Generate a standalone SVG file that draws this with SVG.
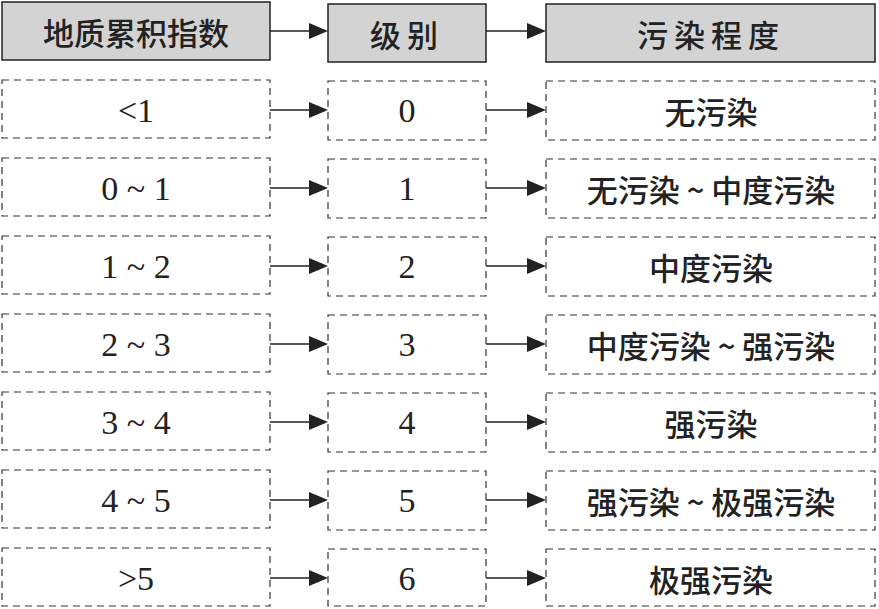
<svg xmlns="http://www.w3.org/2000/svg" width="879" height="609" viewBox="0 0 879 609">
<style>
.h{fill:#d3d3d3;stroke:#222;stroke-width:1.5}
.b{fill:#fff;stroke:#333;stroke-width:1.2;stroke-dasharray:7,5}
.c{font-family:"Noto Sans CJK SC",sans-serif;font-size:31px;font-weight:500;fill:#222;text-anchor:middle;dominant-baseline:central}
.n{font-family:"Liberation Serif",serif;font-size:34px;fill:#222;text-anchor:middle;dominant-baseline:central}
.l{stroke:#222;stroke-width:1.5;fill:none}
.t{fill:#222}
</style>
<defs><path id="ar" class="t" d="M-19,-8L0,0L-19,8z"/></defs>
<rect width="879" height="609" fill="#fff"/>
<g id="connectors">
<path class="l" d="M270,31H312M486,31H530M270,110H312M486,110H530M270,188H312M486,188H530M270,266H312M486,266H530M270,344H312M486,344H530M270,422H312M486,422H530M270,500H312M486,500H530M270,578H312M486,578H530"/>
<use href="#ar" x="328" y="31"/><use href="#ar" x="546" y="31"/>
<use href="#ar" x="328" y="110"/><use href="#ar" x="546" y="110"/>
<use href="#ar" x="328" y="188"/><use href="#ar" x="546" y="188"/>
<use href="#ar" x="328" y="266"/><use href="#ar" x="546" y="266"/>
<use href="#ar" x="328" y="344"/><use href="#ar" x="546" y="344"/>
<use href="#ar" x="328" y="422"/><use href="#ar" x="546" y="422"/>
<use href="#ar" x="328" y="500"/><use href="#ar" x="546" y="500"/>
<use href="#ar" x="328" y="578"/><use href="#ar" x="546" y="578"/>
</g>
<g id="h1"><rect class="h" x="2" y="2" width="268" height="58"/><text class="c" x="136" y="31">地质累积指数</text></g>
<g id="h2"><rect class="h" x="328" y="4" width="158" height="58"/><text class="c" x="407" y="33" letter-spacing="6">级别</text></g>
<g id="h3"><rect class="h" x="546" y="4" width="329" height="58"/><text class="c" x="711" y="33" letter-spacing="6">污染程度</text></g>
<g id="r0"><rect class="b" x="2" y="80" width="268" height="58"/><text class="n" x="136" y="110">&lt;1</text><rect class="b" x="328" y="81" width="158" height="59"/><text class="n" x="407" y="110">0</text><rect class="b" x="546" y="81" width="329" height="59"/><text class="c" x="711" y="110">无污染</text></g>
<g id="r1"><rect class="b" x="2" y="158" width="268" height="58"/><text class="n" x="136" y="188">0 ~ 1</text><rect class="b" x="328" y="159" width="158" height="59"/><text class="n" x="407" y="188">1</text><rect class="b" x="546" y="159" width="329" height="59"/><text class="c" x="711" y="188">无污染 ~ 中度污染</text></g>
<g id="r2"><rect class="b" x="2" y="236" width="268" height="58"/><text class="n" x="136" y="266">1 ~ 2</text><rect class="b" x="328" y="237" width="158" height="59"/><text class="n" x="407" y="266">2</text><rect class="b" x="546" y="237" width="329" height="59"/><text class="c" x="711" y="266">中度污染</text></g>
<g id="r3"><rect class="b" x="2" y="314" width="268" height="58"/><text class="n" x="136" y="344">2 ~ 3</text><rect class="b" x="328" y="315" width="158" height="59"/><text class="n" x="407" y="344">3</text><rect class="b" x="546" y="315" width="329" height="59"/><text class="c" x="711" y="344">中度污染 ~ 强污染</text></g>
<g id="r4"><rect class="b" x="2" y="392" width="268" height="58"/><text class="n" x="136" y="422">3 ~ 4</text><rect class="b" x="328" y="393" width="158" height="59"/><text class="n" x="407" y="422">4</text><rect class="b" x="546" y="393" width="329" height="59"/><text class="c" x="711" y="422">强污染</text></g>
<g id="r5"><rect class="b" x="2" y="470" width="268" height="58"/><text class="n" x="136" y="500">4 ~ 5</text><rect class="b" x="328" y="471" width="158" height="59"/><text class="n" x="407" y="500">5</text><rect class="b" x="546" y="471" width="329" height="59"/><text class="c" x="711" y="500">强污染 ~ 极强污染</text></g>
<g id="r6"><rect class="b" x="2" y="548" width="268" height="58"/><text class="n" x="136" y="578">&gt;5</text><rect class="b" x="328" y="549" width="158" height="57"/><text class="n" x="407" y="578">6</text><rect class="b" x="546" y="549" width="329" height="57"/><text class="c" x="711" y="578">极强污染</text></g>
</svg>
